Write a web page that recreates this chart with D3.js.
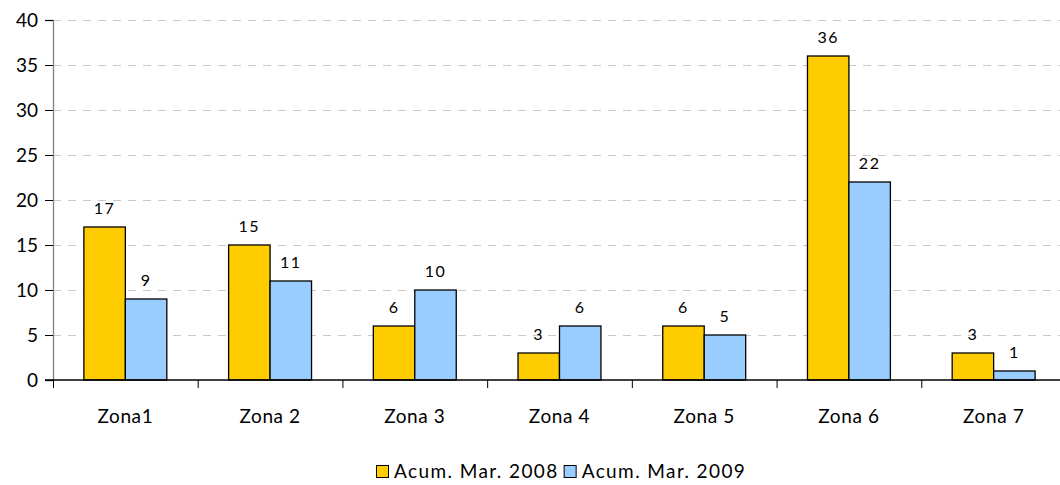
<!DOCTYPE html>
<html>
<head>
<meta charset="utf-8">
<script src="https://cdn.jsdelivr.net/npm/d3@7"></script>
<style>
    body { margin: 0; background: #fff; }
    text { font-family: "Lato", "DejaVu Sans", sans-serif; fill: #000; }
    .grid line { stroke: #c8c8c8; stroke-dasharray: 8 7; }
    .bar { stroke: #000; stroke-width: 1.3; }
</style>
</head>
<body>
<div id="chart"></div>
<script>
const zonas = ["Zona1", "Zona 2", "Zona 3", "Zona 4", "Zona 5", "Zona 6", "Zona 7"];
const serie2008 = [17, 15, 6, 3, 6, 36, 3];
const serie2009 = [9, 11, 10, 6, 5, 22, 1];
const seriesNames = ["Acum. Mar. 2008", "Acum. Mar. 2009"];
const seriesColors = ["#FFCC00", "#99CCFF"];
const yTicks = [0, 5, 10, 15, 20, 25, 30, 35, 40];

const width = 1060;
const height = 485;
const plotLeft = 53;
const plotRight = 1066;
const plotTop = 20;
const plotBottom = 380;

const svg = d3.select("#chart")
    .append("svg")
    .attr("width", width)
    .attr("height", height);

const x = d3.scaleBand()
    .domain(zonas)
    .range([plotLeft, plotRight])
    .paddingInner(0)
    .paddingOuter(0);

const xSeries = d3.scaleBand()
    .domain([0, 1])
    .range([0, x.bandwidth()])
    .paddingOuter(0.745)
    .paddingInner(0);

const y = d3.scaleLinear()
    .domain([0, 40])
    .range([plotBottom, plotTop]);

// gridlines
svg.append("g")
    .attr("class", "grid")
    .selectAll("line")
    .data(yTicks.filter(d => d > 0))
    .join("line")
    .attr("x1", plotLeft)
    .attr("x2", plotRight)
    .attr("y1", d => y(d) + 0.5)
    .attr("y2", d => y(d) + 0.5);

// y axis
const yAxis = svg.append("g")
    .attr("transform", `translate(${plotLeft},0)`)
    .call(d3.axisLeft(y).tickValues(yTicks).tickSize(8).tickPadding(7));
yAxis.select(".domain").attr("stroke", "#808080").attr("stroke-width", 1.3);
yAxis.selectAll(".tick line").attr("stroke", "#000");
yAxis.selectAll(".tick text").style("font-size", "19px");

// bars
const data = zonas.map((z, i) => ({ zona: z, values: [serie2008[i], serie2009[i]] }));

const groups = svg.selectAll(".zona")
    .data(data)
    .join("g")
    .attr("class", "zona")
    .attr("transform", d => `translate(${x(d.zona)},0)`);

groups.selectAll("rect")
    .data(d => d.values.map((v, s) => ({ v, s })))
    .join("rect")
    .attr("class", "bar")
    .attr("x", d => xSeries(d.s))
    .attr("y", d => y(d.v))
    .attr("width", xSeries.bandwidth())
    .attr("height", d => y(0) - y(d.v))
    .attr("fill", d => seriesColors[d.s]);

groups.selectAll(".val")
    .data(d => d.values.map((v, s) => ({ v, s })))
    .join("text")
    .attr("class", "val")
    .attr("x", d => xSeries(d.s) + xSeries.bandwidth() / 2)
    .attr("y", d => y(d.v) - 13)
    .attr("text-anchor", "middle")
    .style("font-size", "16px")
    .style("letter-spacing", "1.5px")
    .text(d => d.v);

// x axis
const xAxis = svg.append("g")
    .attr("transform", `translate(0,${plotBottom})`);
xAxis.append("line")
    .attr("x1", plotLeft - 8)
    .attr("x2", plotRight)
    .attr("stroke", "#000")
    .attr("stroke-width", 1.3);
xAxis.selectAll(".xtick")
    .data(zonas)
    .join("line")
    .attr("class", "xtick")
    .attr("x1", d => x(d) + 0.5)
    .attr("x2", d => x(d) + 0.5)
    .attr("y1", 0)
    .attr("y2", 8)
    .attr("stroke", "#000");
xAxis.selectAll(".xlabel")
    .data(zonas)
    .join("text")
    .attr("class", "xlabel")
    .attr("x", d => x(d) + x.bandwidth() / 2)
    .attr("y", 43)
    .attr("text-anchor", "middle")
    .style("font-size", "19px")
    .style("letter-spacing", "0.6px")
    .text(d => d);

// legend
const legend = svg.append("g")
    .attr("transform", "translate(376,465)");
let lx = 0;
seriesNames.forEach((name, i) => {
    legend.append("rect")
        .attr("x", lx + 0.5)
        .attr("y", 0.5)
        .attr("width", 12)
        .attr("height", 12)
        .attr("fill", seriesColors[i])
        .attr("stroke", "#000");
    const t = legend.append("text")
        .attr("x", lx + 18)
        .attr("y", 13)
        .style("font-size", "19px")
        .style("letter-spacing", "1.4px")
        .text(name);
    lx += 18 + t.node().getComputedTextLength() + 5;
});
</script>
</body>
</html>
